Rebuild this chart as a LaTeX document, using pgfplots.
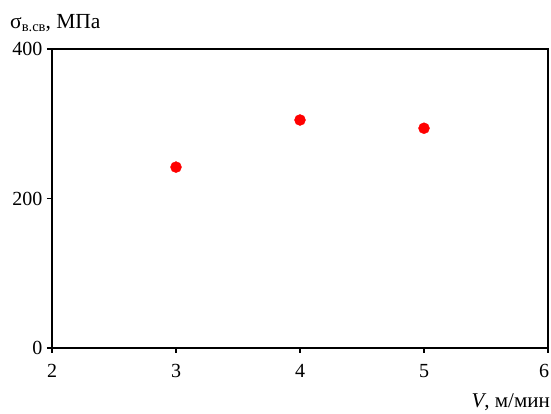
\documentclass[border=0pt]{standalone}
\usepackage{fontspec}
\setmainfont{Liberation Serif}
\usepackage{pgfplots}
\pgfplotsset{compat=1.18}
\begin{document}
\begin{tikzpicture}[x=1pt,y=1pt]
\path[use as bounding box] (0,0) rectangle (551,414);
\begin{axis}[at={(52pt,66pt)}, anchor=south west, scale only axis,
  width=496pt, height=299pt,
  xmin=2, xmax=6, ymin=0, ymax=400,
  xtick={2,3,4,5,6}, ytick={0,200,400},
  xticklabels={2,3,4,5,\hspace{-8pt}6},
  axis line style={line width=1.8pt},
  tick style={line width=1.5pt, black},
  tick align=outside, major tick length=5pt,
  xtick pos=bottom, ytick pos=left,
  ticklabel style={font=\fontsize{20}{20}\selectfont},
  /pgf/number format/assume math mode=true,
  xticklabel style={yshift=-8pt},
  yticklabel style={xshift=-1pt},
]
\addplot[only marks, mark=*, mark size=5.5pt, red, mark options={draw=red, fill=red}]
  coordinates {(3,242) (4,305) (5,294)};
\end{axis}
\node[anchor=base west, inner sep=0pt, font=\fontsize{21.5}{21.5}\selectfont] at (10,385)
  {σ\raisebox{-0.3ex}{\fontsize{14.5}{14.5}\selectfont в.св}, МПа};
\node[anchor=base east, inner sep=0pt, font=\fontsize{21}{21}\selectfont] at (550,6)
  {\textit{V}, м/мин};
\end{tikzpicture}
\end{document}
